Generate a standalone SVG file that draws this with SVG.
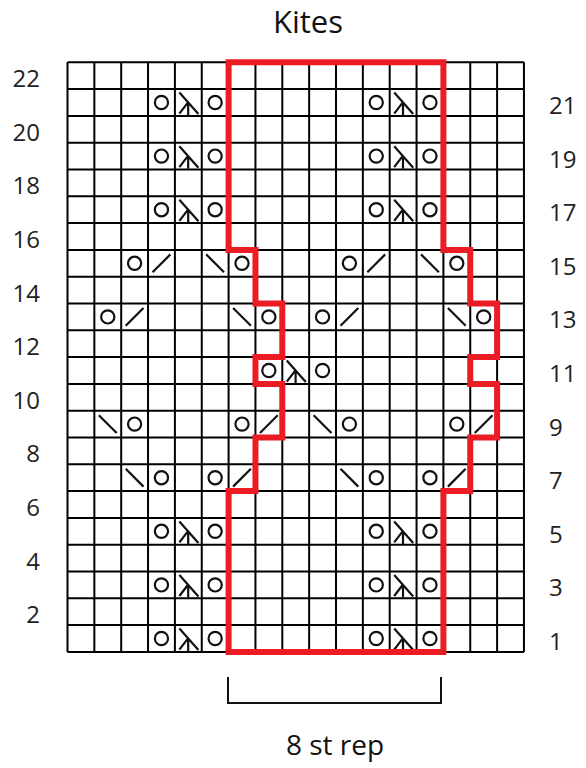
<svg xmlns="http://www.w3.org/2000/svg" xmlns:xlink="http://www.w3.org/1999/xlink" width="586" height="768" viewBox="0 0 586 768">
<style>
.grid{stroke:#000;stroke-width:2;fill:none}
.sym{stroke:#111;stroke-width:2.2;fill:none;stroke-linecap:butt}
.red{stroke:#ec1c24;stroke-width:6;fill:none;stroke-linejoin:miter}
.lbl{font-family:"Open Sans","Noto Sans",sans-serif;font-size:24px;fill:#222}
.ttl{font-family:"Open Sans","Noto Sans",sans-serif;fill:#111}
</style>
<defs>
<circle id="yo" class="sym" cx="13.4" cy="13.4" r="6.6"/>
<path id="k2" class="sym" d="M4.5,22.3 L22.3,4.5"/>
<path id="sk" class="sym" d="M4.5,4.5 L22.3,22.3"/>
<path id="dd" class="sym" d="M4.5,3.5 L23.5,25 M13.3,13 L4.5,24.5 M13.3,13 V26"/>
</defs>
<rect width="586" height="768" fill="#fff"/>
<text class="ttl" x="308" y="33" font-size="31" text-anchor="middle">Kites</text>
<g id="grid" class="grid">
<path d="M67.5,62.3V651.9M94.35,62.3V651.9M121.2,62.3V651.9M148.05,62.3V651.9M174.9,62.3V651.9M201.75,62.3V651.9M228.6,62.3V651.9M255.45,62.3V651.9M282.3,62.3V651.9M309.15,62.3V651.9M336,62.3V651.9M362.85,62.3V651.9M389.7,62.3V651.9M416.55,62.3V651.9M443.4,62.3V651.9M470.25,62.3V651.9M497.1,62.3V651.9M523.95,62.3V651.9"/>
<path d="M67.5,62.3H523.95M67.5,89.1H523.95M67.5,115.9H523.95M67.5,142.7H523.95M67.5,169.5H523.95M67.5,196.3H523.95M67.5,223.1H523.95M67.5,249.9H523.95M67.5,276.7H523.95M67.5,303.5H523.95M67.5,330.3H523.95M67.5,357.1H523.95M67.5,383.9H523.95M67.5,410.7H523.95M67.5,437.5H523.95M67.5,464.3H523.95M67.5,491.1H523.95M67.5,517.9H523.95M67.5,544.7H523.95M67.5,571.5H523.95M67.5,598.3H523.95M67.5,625.1H523.95M67.5,651.9H523.95"/>
</g>
<g id="symbols">
<g id="r21" transform="translate(0,89.1)"><use xlink:href="#yo" x="148.05"/><use xlink:href="#dd" x="174.9"/><use xlink:href="#yo" x="201.75"/><use xlink:href="#yo" x="362.85"/><use xlink:href="#dd" x="389.7"/><use xlink:href="#yo" x="416.55"/></g>
<use xlink:href="#r21" y="53.6"/>
<use xlink:href="#r21" y="107.2"/>
<use xlink:href="#r21" y="428.8"/>
<use xlink:href="#r21" y="482.4"/>
<use xlink:href="#r21" y="536"/>
<g id="r15" transform="translate(0,249.9)"><use xlink:href="#yo" x="121.2"/><use xlink:href="#k2" x="148.05"/><use xlink:href="#sk" x="201.75"/><use xlink:href="#yo" x="228.6"/><use xlink:href="#yo" x="336"/><use xlink:href="#k2" x="362.85"/><use xlink:href="#sk" x="416.55"/><use xlink:href="#yo" x="443.4"/></g>
<g id="r13" transform="translate(0,303.5)"><use xlink:href="#yo" x="94.35"/><use xlink:href="#k2" x="121.2"/><use xlink:href="#sk" x="228.6"/><use xlink:href="#yo" x="255.45"/><use xlink:href="#yo" x="309.15"/><use xlink:href="#k2" x="336"/><use xlink:href="#sk" x="443.4"/><use xlink:href="#yo" x="470.25"/></g>
<g id="r11" transform="translate(0,357.1)"><use xlink:href="#yo" x="255.45"/><use xlink:href="#dd" x="282.3"/><use xlink:href="#yo" x="309.15"/></g>
<g id="r9" transform="translate(0,410.7)"><use xlink:href="#sk" x="94.35"/><use xlink:href="#yo" x="121.2"/><use xlink:href="#yo" x="228.6"/><use xlink:href="#k2" x="255.45"/><use xlink:href="#sk" x="309.15"/><use xlink:href="#yo" x="336"/><use xlink:href="#yo" x="443.4"/><use xlink:href="#k2" x="470.25"/></g>
<g id="r7" transform="translate(0,464.3)"><use xlink:href="#sk" x="121.2"/><use xlink:href="#yo" x="148.05"/><use xlink:href="#yo" x="201.75"/><use xlink:href="#k2" x="228.6"/><use xlink:href="#sk" x="336"/><use xlink:href="#yo" x="362.85"/><use xlink:href="#yo" x="416.55"/><use xlink:href="#k2" x="443.4"/></g>
</g>
<g id="repeat">
<path class="red" d="M228.6,62.3 H443.4 V249.9 H470.25 V303.5 H497.1 V357.1 H470.25 V383.9 H497.1 V437.5 H470.25 V491.1 H443.4 V651.9 H228.6 V491.1 H255.45 V437.5 H282.3 V383.9 H255.45 V357.1 H282.3 V303.5 H255.45 V249.9 H228.6 Z"/>
</g>
<g id="labels-left" class="lbl" text-anchor="end">
<text x="40" y="87.2">22</text><text x="40" y="140.8">20</text><text x="40" y="194.4">18</text><text x="40" y="248">16</text><text x="40" y="301.6">14</text><text x="40" y="355.2">12</text><text x="40" y="408.8">10</text><text x="40" y="462.4">8</text><text x="40" y="516">6</text><text x="40" y="569.6">4</text><text x="40" y="623.2">2</text>
</g>
<g id="labels-right" class="lbl">
<text x="549" y="114">21</text><text x="549" y="167.6">19</text><text x="549" y="221.2">17</text><text x="549" y="274.8">15</text><text x="549" y="328.4">13</text><text x="549" y="382">11</text><text x="549" y="435.6">9</text><text x="549" y="489.2">7</text><text x="549" y="542.8">5</text><text x="549" y="596.4">3</text><text x="549" y="650">1</text>
</g>
<g id="bracket">
<path d="M228,677 V703 H441 V677" fill="none" stroke="#111" stroke-width="2"/>
<text class="ttl" x="335" y="755" font-size="28" text-anchor="middle">8 st rep</text>
</g>
</svg>
